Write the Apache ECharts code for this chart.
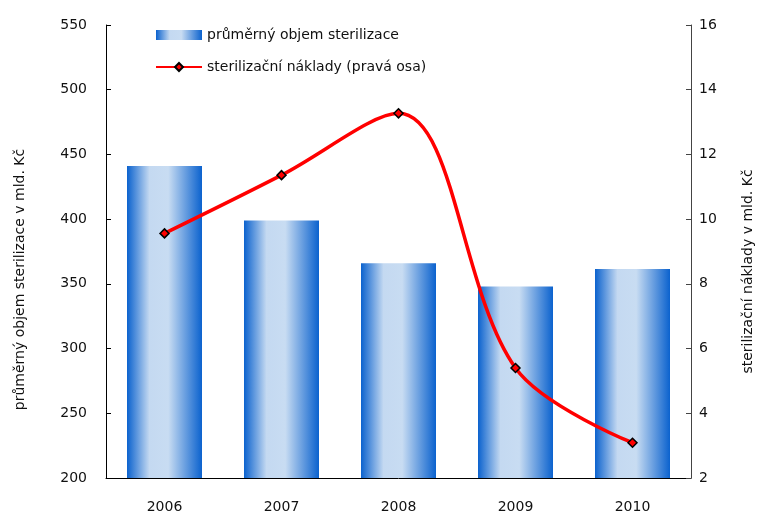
<!DOCTYPE html>
<html>
<head>
<meta charset="utf-8">
<script src="https://cdn.jsdelivr.net/npm/echarts@6/dist/echarts.min.js"></script>
<style>html,body{margin:0;padding:0;background:#fff}#c{width:758px;height:514px}</style>
</head>
<body>
<div id="c"></div>
<script>
var years = ['2006', '2007', '2008', '2009', '2010'];
var volume = [441, 399, 366, 348, 361.5];
var costs = [9.56, 11.36, 13.27, 5.40, 3.09];
var leftTicks = {min: 200, max: 550, interval: 50};
var rightTicks = {min: 2, max: 16, interval: 2};
var seriesNames = ['průměrný objem sterilizace', 'sterilizační náklady (pravá osa)'];
var axisNames = ['průměrný objem sterilizace v mld. Kč', 'sterilizační náklady v mld. Kč'];

var font = 'DejaVu Sans';
var txt = {fontFamily: font, fontSize: 14, color: '#111'};
var barGrad = new echarts.graphic.LinearGradient(0, 0, 1, 0, [
  {offset: 0, color: '#0b62ce'},
  {offset: 0.3, color: '#c4d9f1'},
  {offset: 0.55, color: '#c8dcf2'},
  {offset: 1, color: '#0b62ce'}
]);
var chart = echarts.init(document.getElementById('c'), null, {renderer: 'canvas'});
chart.setOption({
  animation: false,
  backgroundColor: '#fff',
  grid: {left: 106, right: 67, top: 25, bottom: 36, containLabel: false, outerBoundsMode: 'none'},
  legend: {
    orient: 'vertical', left: 150, top: 23, itemGap: 18, itemWidth: 46, itemHeight: 10,
    textStyle: txt,
    data: [{name: seriesNames[0], icon: 'rect'}, {name: seriesNames[1]}]
  },
  xAxis: {
    type: 'category', data: years,
    axisLine: {lineStyle: {color: '#000', width: 1}},
    axisTick: {show: false},
    axisLabel: Object.assign({margin: 22}, txt)
  },
  yAxis: [{
    type: 'value', min: leftTicks.min, max: leftTicks.max, interval: leftTicks.interval,
    name: axisNames[0], nameLocation: 'middle', nameGap: 79,
    nameTextStyle: Object.assign({padding: [0, 56, 0, 0]}, txt),
    axisLine: {show: true, lineStyle: {color: '#000'}},
    axisTick: {show: true, inside: true, length: 5, lineStyle: {color: '#000'}},
    splitLine: {show: false},
    axisLabel: Object.assign({margin: 19}, txt)
  }, {
    type: 'value', position: 'right', min: rightTicks.min, max: rightTicks.max, interval: rightTicks.interval,
    name: axisNames[1], nameLocation: 'middle', nameGap: 50,
    nameTextStyle: Object.assign({padding: [0, 40, 0, 0]}, txt),
    axisLine: {show: true, lineStyle: {color: '#444'}},
    axisTick: {show: true, inside: true, length: 5, lineStyle: {color: '#444'}},
    splitLine: {show: false},
    axisLabel: Object.assign({margin: 8}, txt)
  }],
  series: [{
    name: seriesNames[0], type: 'bar', data: volume, barWidth: 75,
    itemStyle: {color: barGrad}
  }, {
    name: seriesNames[1], type: 'line', yAxisIndex: 1, data: costs,
    smooth: 0.35, symbol: 'diamond', symbolSize: 9,
    lineStyle: {color: '#ff0000', width: 3.5},
    itemStyle: {color: '#ff0000', borderColor: '#000', borderWidth: 1.5}
  }]
});
</script>
</body>
</html>
